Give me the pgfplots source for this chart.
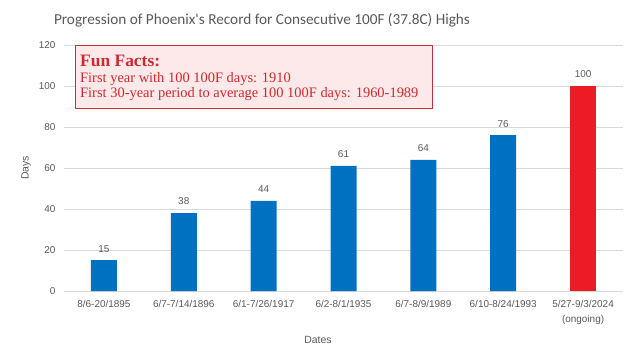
\documentclass[border=0pt]{standalone}
\usepackage{pgfplots}
\pgfplotsset{compat=1.18}
\usepackage{fontspec}
\setmainfont{Liberation Sans}
\newfontfamily\titlefont{Carlito}
\newfontfamily\boxfont{Liberation Serif}
\definecolor{barblue}{HTML}{0070C0}
\definecolor{barred}{HTML}{ED1C24}
\definecolor{gridc}{HTML}{D9D9D9}
\definecolor{txt}{HTML}{595959}
\definecolor{boxfill}{HTML}{FDE9EA}
\definecolor{boxdraw}{HTML}{C0313A}
\definecolor{boxtext}{HTML}{CC2A30}
\begin{document}
\begin{tikzpicture}
\path[use as bounding box] (0bp,0bp) rectangle (634bp,358bp);
\begin{axis}[
  at={(64bp,67bp)}, anchor=south west,
  scale only axis, width=559bp, height=246bp,
  xmin=-0.5, xmax=6.5, ymin=0, ymax=120,
  ytick={0,20,...,120},
  xtick={0,...,6},
  xticklabels={8/6-20/1895,6/7-7/14/1896,6/1-7/26/1917,6/2-8/1/1935,6/7-8/9/1989,6/10-8/24/1993,{5/27-9/3/2024\\(ongoing)}},
  xticklabel style={align=center, text depth=0pt, yshift=-6bp, font=\fontsize{10}{15}\selectfont},
  yticklabel style={xshift=-5bp},
  ymajorgrids, grid style={gridc, line width=0.8pt},
  axis line style={draw=none},
  major tick length=0pt,
  tick label style={font=\fontsize{10}{15}\selectfont, text=txt},
  ybar, bar width=26bp,
  nodes near coords,
  every node near coord/.append style={font=\fontsize{10}{12}\selectfont, text=txt, yshift=4.5bp},
  /pgf/number format/assume math mode=true,
  clip=false,
]
\addplot[fill=barblue, draw=none, bar shift=0pt] coordinates {(0,15) (1,38) (2,44) (3,61) (4,64) (5,76)};
\addplot[fill=barred, draw=none, bar shift=0pt] coordinates {(6,100)};
\end{axis}
\node[font=\titlefont\fontsize{15.3}{19}\selectfont, text=txt] at (262bp,338bp) {Progression of Phoenix's Record for Consecutive 100F (37.8C) Highs};
\node[font=\fontsize{10.5}{12}\selectfont, text=txt] at (318bp,18bp) {Dates};
\node[font=\fontsize{10.5}{12}\selectfont, text=txt, rotate=90] at (26bp,190bp) {Days};
\draw[boxdraw, fill=boxfill, line width=0.8pt] (75bp,313bp) rectangle (432bp,250bp);
\node[anchor=base west, inner sep=0pt, text=boxtext, font=\boxfont\bfseries\fontsize{17.5}{19}\selectfont] at (80bp,291bp) {Fun Facts:};
\node[anchor=base west, inner sep=0pt, text=boxtext, font=\boxfont\fontsize{14.5}{16}\selectfont] at (80bp,275bp) {First year with 100 100F days: 1910};
\node[anchor=base west, inner sep=0pt, text=boxtext, font=\boxfont\fontsize{14.5}{16}\selectfont] at (80bp,260bp) {First 30-year period to average 100 100F days: 1960-1989};
\end{tikzpicture}
\end{document}
